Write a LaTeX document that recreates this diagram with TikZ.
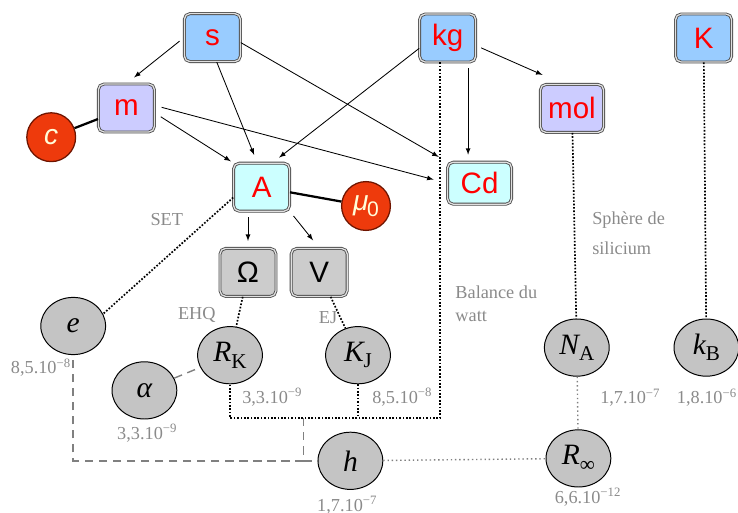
\documentclass[tikz,border=0pt]{standalone}
\usepackage{fontspec}
\setmainfont{Liberation Serif}
\newfontfamily\arialfont{Liberation Sans}
\usetikzlibrary{shapes.geometric}
\definecolor{siblue}{HTML}{99CCFF}
\definecolor{sililac}{HTML}{CCCCFF}
\definecolor{sicyan}{HTML}{CCFFFF}
\definecolor{sigrey}{HTML}{C4C4C4}
\definecolor{sired}{HTML}{EE3A0C}
\definecolor{labelgrey}{HTML}{8A8A8A}
\newcommand{\lowidx}[1]{\raisebox{-4.5pt}{\fontsize{15}{15}\selectfont\upshape #1}}
\begin{document}
\begin{tikzpicture}[
	unit/.style={draw=black!70, double=black!12, double distance=0.9pt, line width=0.6pt, rounded corners=4pt,
		minimum width=1.4cm, minimum height=1.2cm, inner sep=0pt, text=red, font=\arialfont\fontsize{21}{21}\selectfont},
	const/.style={ellipse, draw, line width=0.7pt, fill=sigrey, minimum width=1.62cm, minimum height=1.43cm,
		inner sep=0pt, font=\fontsize{21}{21}\selectfont},
	fixed/.style={circle, draw={rgb,255:red,110;green,20;blue,0}, line width=0.9pt, fill=sired, minimum size=1.22cm,
		inner sep=0pt, text=yellow!15, font=\arialfont\fontsize{20}{20}\selectfont},
	lbl/.style={text=labelgrey, font=\fontsize{13}{15}\selectfont, inner sep=0pt},
	arr/.style={-latex, line width=0.6pt},
	relation/.style={line width=1.2pt, dash pattern=on 1.2pt off 1.2pt},
	link/.style={line width=1.6pt}
]
	\useasboundingbox (0,0) rectangle (18.45,-12.825);

	\draw ( 5.31,-0.94) node[unit, fill=siblue] (s) {s};
	\draw (11.19,-0.95) node[unit, fill=siblue] (kg) {kg};
	\draw (17.59,-0.95) node[unit, fill=siblue] (K) {K};
	\draw ( 3.16,-2.70) node[unit, fill=sililac] (m) {m};
	\draw (14.30,-2.71) node[unit, fill=sililac, minimum width=1.58cm] (mol) {mol};
	\draw ( 6.54,-4.68) node[unit, fill=sicyan] (A) {A};
	\draw (11.99,-4.58) node[unit, fill=sicyan, minimum width=1.6cm, minimum height=1.05cm] (Cd) {Cd};
	\draw ( 6.20,-6.81) node[unit, fill=black!20, text=black] (Om) {Ω};
	\draw ( 7.98,-6.81) node[unit, fill=black!20, text=black] (V) {V};

	\draw ( 1.28,-3.43) node[fixed] (c) {\itshape c};
	\draw ( 9.15,-5.15) node[fixed] (mu) {\itshape μ\kern-1pt\raisebox{-4pt}{\fontsize{15}{15}\selectfont\upshape 0}};

	\draw ( 1.83,-8.15) node[const] (e) {\itshape e};
	\draw ( 3.61,-9.76) node[const] (alpha) {\itshape α};
	\draw ( 5.75,-8.88) node[const] (RK) {\itshape R\lowidx{K}};
	\draw ( 8.95,-8.88) node[const] (KJ) {\itshape K\lowidx{J}};
	\draw ( 8.76,-11.52) node[const] (h) {\itshape h};
	\draw (14.42,-8.69) node[const] (NA) {\itshape N\lowidx{A}};
	\draw (14.46,-11.46) node[const] (Rinf) {\itshape R\lowidx{∞}};
	\draw (17.66,-8.69) node[const] (kB) {\itshape k\lowidx{B}};

	\draw ( 1.78,-9.20) node[lbl, anchor=east] (le) {8,5.10\textsuperscript{−8}};
	\draw ( 3.68,-10.83) node[lbl] (lalpha) {3,3.10\textsuperscript{−9}};
	\draw ( 6.05,-9.93) node[lbl, anchor=west] (lRK) {3,3.10\textsuperscript{−9}};
	\draw ( 9.30,-9.93) node[lbl, anchor=west] (lKJ) {8,5.10\textsuperscript{−8}};
	\draw ( 8.68,-12.63) node[lbl] (lh) {1,7.10\textsuperscript{−7}};
	\draw (15.00,-9.95) node[lbl, anchor=west] (lNA) {1,7.10\textsuperscript{−7}};
	\draw (18.43,-9.95) node[lbl, anchor=east] (lkB) {1,8.10\textsuperscript{−6}};
	\draw (14.70,-12.43) node[lbl] (lRinf) {6,6.10\textsuperscript{−12}};

	\draw ( 4.17,-5.50) node[lbl] (set) {SET};
	\draw ( 4.92,-7.88) node[lbl] (ehq) {EHQ};
	\draw ( 8.20,-7.95) node[lbl] (ej) {EJ};
	\draw (11.38,-7.59) node[lbl, anchor=west, align=left, font=\fontsize{13}{16.4}\selectfont] (watt) {Balance du\\watt};
	\draw (14.80,-5.83) node[lbl, anchor=west, align=left, font=\fontsize{13}{21.3}\selectfont] (sphere) {Sphère de\\silicium};

	\coordinate (bw) at (11.0,-10.45);
	\coordinate (hj) at (7.58,-10.45);

	\draw[arr, shorten <=4pt, shorten >=7pt] (s.west) -- (m.north);
	\draw[arr, shorten >=6pt] (s.-80) -- (A.100);
	\draw[arr, shorten >=7pt] (s.-10) -- (Cd.north west);
	\draw[arr, shorten <=5pt, shorten >=2pt] (m.-10) -- (A.north west);
	\draw[arr, shorten <=5pt, shorten >=10pt] (m.5) -- (Cd.west);
	\draw[arr, shorten >=6pt] (kg.200) -- (A.66);
	\draw[arr, shorten <=4pt, shorten >=5pt] (kg.-50) -- (kg.-50 |- Cd.north);
	\draw[arr, shorten <=4pt, shorten >=16pt] (kg.-15) -- (mol.110);
	\draw[arr, shorten <=4pt, shorten >=5pt] (A.south -| Om) -- (Om.north);
	\draw[arr, shorten <=4pt, shorten >=7pt] (A.south east) -- (V.north);

	\draw[link] (m) -- (c);
	\draw[link] (A) -- (mu);

	\draw[relation] (A.200) -- (e.22);
	\draw[relation] (Om) -- (RK);
	\draw[relation] (V) -- (KJ);
	\draw[relation] (mol) -- (NA);
	\draw[relation] (K) -- (kB);
	\draw[relation] (bw |- kg.south) -- (bw) -- (bw -| RK.south) -- (RK.south);
	\draw[relation] (KJ.south) -- (KJ.south |- bw);

	\draw[gray, line width=1pt, dash pattern=on 6pt off 4pt] (alpha) -- (RK);
	\draw[gray, line width=1pt, dash pattern=on 6pt off 4pt] (hj) -- (hj |- h.west) -- (e.south |- h.west) -- (e.south);
	\draw[gray, line width=1pt, dash pattern=on 6pt off 4pt] (hj |- h.west) -- (h.west);
	\draw[gray, line width=1pt, dotted] (h) -- (Rinf);
	\draw[gray, line width=1pt, dotted] (NA) -- (Rinf);
\end{tikzpicture}
\end{document}
